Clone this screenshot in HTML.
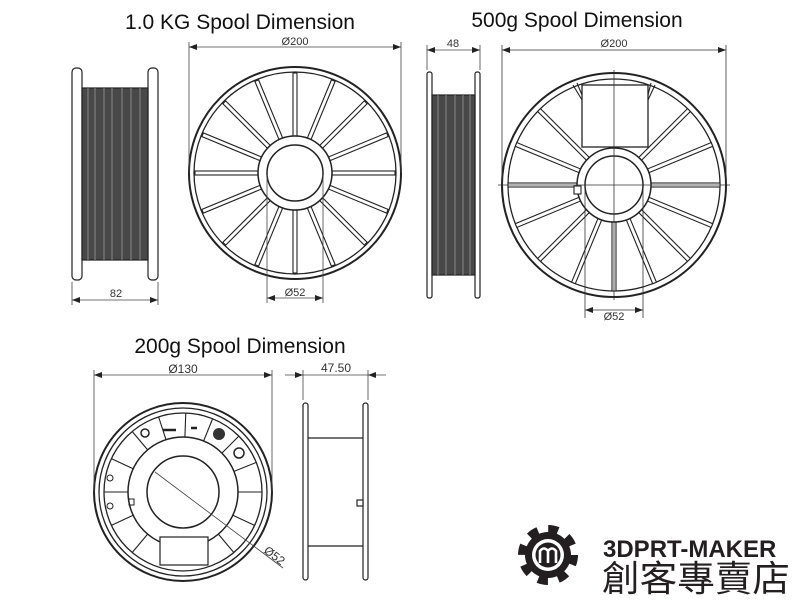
<!DOCTYPE html>
<html><head><meta charset="utf-8"><style>
html,body{margin:0;padding:0;background:#fff;}
svg{display:block}
text{font-family:"Liberation Sans","DejaVu Sans",sans-serif;}
</style></head><body>
<svg width="800" height="600" viewBox="0 0 800 600" xmlns="http://www.w3.org/2000/svg">
<defs>
<marker id="ar" markerWidth="8" markerHeight="6" refX="8" refY="3" orient="auto-start-reverse" markerUnits="userSpaceOnUse"><path d="M0,0 L8,3 L0,6 z" fill="#222"/></marker>
</defs>
<g font-family="Liberation Sans, DejaVu Sans, sans-serif">
<text x="240" y="29" font-size="21" text-anchor="middle" fill="#111">1.0 KG Spool Dimension</text>
<text x="577" y="27" font-size="21" text-anchor="middle" fill="#111">500g Spool Dimension</text>
<text x="240" y="353" font-size="21" text-anchor="middle" fill="#111">200g Spool Dimension</text>
</g>

<!-- 1kg side -->
<g stroke="#222" stroke-width="1.2">
<rect x="72" y="68" width="10" height="212" rx="4" fill="#fff"/>
<rect x="148" y="68" width="10" height="212" rx="4" fill="#fff"/>
<rect x="82" y="88" width="66" height="172" fill="#484848"/>
</g>
<g stroke="#888" stroke-width="1">
<line x1="88" y1="88" x2="88" y2="260"/><line x1="95" y1="88" x2="95" y2="260"/><line x1="104" y1="88" x2="104" y2="260"/><line x1="112" y1="88" x2="112" y2="260"/><line x1="122" y1="88" x2="122" y2="260"/><line x1="131" y1="88" x2="131" y2="260"/><line x1="140" y1="88" x2="140" y2="260"/>
</g>
<g stroke="#444" stroke-width="0.8" fill="none">
<line x1="72" y1="282" x2="72" y2="305"/><line x1="158" y1="282" x2="158" y2="305"/>
<line x1="72" y1="300" x2="158" y2="300" marker-start="url(#ar)" marker-end="url(#ar)"/>
</g>
<text x="116" y="297" font-size="11" text-anchor="middle" fill="#333">82</text>

<!-- 1kg front -->
<g stroke="#222" stroke-width="1.3" fill="none">
<circle cx="295" cy="173" r="106" stroke-width="2"/>
<circle cx="295" cy="173" r="101"/>
</g>
<g fill="#fff" stroke="#222" stroke-width="1.1">
<rect x="332" y="171" width="63" height="4" transform="rotate(0 295 173)"/>
<rect x="332" y="171" width="63" height="4" transform="rotate(22.5 295 173)"/>
<rect x="332" y="171" width="63" height="4" transform="rotate(45 295 173)"/>
<rect x="332" y="171" width="63" height="4" transform="rotate(67.5 295 173)"/>
<rect x="332" y="171" width="63" height="4" transform="rotate(90 295 173)"/>
<rect x="332" y="171" width="63" height="4" transform="rotate(112.5 295 173)"/>
<rect x="332" y="171" width="63" height="4" transform="rotate(135 295 173)"/>
<rect x="332" y="171" width="63" height="4" transform="rotate(157.5 295 173)"/>
<rect x="332" y="171" width="63" height="4" transform="rotate(180 295 173)"/>
<rect x="332" y="171" width="63" height="4" transform="rotate(202.5 295 173)"/>
<rect x="332" y="171" width="63" height="4" transform="rotate(225 295 173)"/>
<rect x="332" y="171" width="63" height="4" transform="rotate(247.5 295 173)"/>
<rect x="332" y="171" width="63" height="4" transform="rotate(270 295 173)"/>
<rect x="332" y="171" width="63" height="4" transform="rotate(292.5 295 173)"/>
<rect x="332" y="171" width="63" height="4" transform="rotate(315 295 173)"/>
<rect x="332" y="171" width="63" height="4" transform="rotate(337.5 295 173)"/>
<circle cx="295" cy="173" r="37" stroke-width="1.5"/>
<circle cx="295" cy="173" r="28" stroke-width="1.5"/>
</g>
<g stroke="#444" stroke-width="0.8" fill="none">
<line x1="189" y1="173" x2="189" y2="42"/><line x1="401" y1="173" x2="401" y2="42"/>
<line x1="189" y1="47" x2="401" y2="47" marker-start="url(#ar)" marker-end="url(#ar)"/>
<line x1="267" y1="175" x2="267" y2="303"/><line x1="323" y1="175" x2="323" y2="303"/>
<line x1="267" y1="298" x2="323" y2="298" marker-start="url(#ar)" marker-end="url(#ar)"/>
</g>
<text x="295" y="45" font-size="11" text-anchor="middle" fill="#333">Ø200</text>
<text x="295" y="296" font-size="11" text-anchor="middle" fill="#333">Ø52</text>

<!-- 500g side -->
<g stroke="#222" stroke-width="1.2">
<rect x="427" y="72" width="5" height="226" rx="2" fill="#fff"/>
<rect x="475" y="72" width="5" height="226" rx="2" fill="#fff"/>
<rect x="432" y="95" width="43" height="180" fill="#484848"/>
</g>
<g stroke="#888" stroke-width="1">
<line x1="438" y1="95" x2="438" y2="275"/><line x1="446" y1="95" x2="446" y2="275"/><line x1="455" y1="95" x2="455" y2="275"/><line x1="463" y1="95" x2="463" y2="275"/><line x1="470" y1="95" x2="470" y2="275"/>
</g>
<g stroke="#444" stroke-width="0.8" fill="none">
<line x1="427" y1="70" x2="427" y2="45"/><line x1="480" y1="70" x2="480" y2="45"/>
<line x1="427" y1="50" x2="480" y2="50" marker-start="url(#ar)" marker-end="url(#ar)"/>
</g>
<text x="453" y="47" font-size="11" text-anchor="middle" fill="#333">48</text>

<!-- 500g front -->
<g stroke="#222" stroke-width="1.3" fill="none">
<circle cx="614" cy="185" r="112" stroke-width="2"/>
<circle cx="614" cy="185" r="106"/>
</g>
<g fill="#fff" stroke="#222" stroke-width="1.1">
<rect x="651" y="183" width="69" height="4" transform="rotate(0 614 185)"/>
<rect x="651" y="183" width="69" height="4" transform="rotate(22.5 614 185)"/>
<rect x="651" y="183" width="69" height="4" transform="rotate(45 614 185)"/>
<rect x="651" y="183" width="69" height="4" transform="rotate(67.5 614 185)"/>
<rect x="651" y="183" width="69" height="4" transform="rotate(90 614 185)"/>
<rect x="651" y="183" width="69" height="4" transform="rotate(112.5 614 185)"/>
<rect x="651" y="183" width="69" height="4" transform="rotate(135 614 185)"/>
<rect x="651" y="183" width="69" height="4" transform="rotate(157.5 614 185)"/>
<rect x="651" y="183" width="69" height="4" transform="rotate(180 614 185)"/>
<rect x="651" y="183" width="69" height="4" transform="rotate(202.5 614 185)"/>
<rect x="651" y="183" width="69" height="4" transform="rotate(225 614 185)"/>
<rect x="651" y="183" width="69" height="4" transform="rotate(315 614 185)"/>
<rect x="651" y="183" width="69" height="4" transform="rotate(337.5 614 185)"/>
<rect x="582" y="85" width="66" height="62" stroke-width="1.3"/>
<circle cx="614" cy="185" r="37" stroke-width="1.5"/>
<circle cx="614" cy="185" r="29" stroke-width="1.5"/>
<rect x="574" y="186" width="7" height="8"/>
</g>
<g stroke="#222" stroke-width="1.1" fill="none">
<line x1="573" y1="85" x2="582" y2="100"/><line x1="577" y1="83" x2="582" y2="95"/>
<line x1="655" y1="85" x2="648" y2="100"/><line x1="651" y1="83" x2="648" y2="95"/>
</g>
<g stroke="#333" stroke-width="0.8" fill="none">
<line x1="614" y1="70" x2="614" y2="300"/><line x1="498" y1="185" x2="730" y2="185"/>
<line x1="502" y1="185" x2="502" y2="45"/><line x1="726" y1="185" x2="726" y2="45"/>
<line x1="502" y1="50" x2="726" y2="50" marker-start="url(#ar)" marker-end="url(#ar)"/>
<line x1="585" y1="187" x2="585" y2="318"/><line x1="643" y1="187" x2="643" y2="318"/>
<line x1="585" y1="310" x2="643" y2="310" marker-start="url(#ar)" marker-end="url(#ar)"/>
</g>
<text x="614" y="47" font-size="11" text-anchor="middle" fill="#333">Ø200</text>
<text x="614" y="320" font-size="11" text-anchor="middle" fill="#333">Ø52</text>

<!-- 200g front -->
<g stroke="#222" stroke-width="1.3" fill="none">
<circle cx="183" cy="492" r="89" stroke-width="2"/>
<circle cx="183" cy="492" r="84"/>
<circle cx="183" cy="492" r="79"/>
<circle cx="183" cy="492" r="55" stroke-width="1.5"/>
<circle cx="183" cy="492" r="36" stroke-width="1.5"/>
</g>
<g stroke="#222" stroke-width="1.1">
<line x1="238" y1="492" x2="262" y2="492" transform="rotate(0 183 492)"/>
<line x1="238" y1="492" x2="262" y2="492" transform="rotate(25 183 492)"/>
<line x1="238" y1="492" x2="262" y2="492" transform="rotate(50 183 492)"/>
<line x1="238" y1="492" x2="262" y2="492" transform="rotate(130 183 492)"/>
<line x1="238" y1="492" x2="262" y2="492" transform="rotate(155 183 492)"/>
<line x1="238" y1="492" x2="262" y2="492" transform="rotate(180 183 492)"/>
<line x1="238" y1="492" x2="262" y2="492" transform="rotate(205 183 492)"/>
<line x1="238" y1="492" x2="262" y2="492" transform="rotate(230 183 492)"/>
<line x1="238" y1="492" x2="262" y2="492" transform="rotate(252 183 492)"/>
<line x1="238" y1="492" x2="262" y2="492" transform="rotate(272 183 492)"/>
<line x1="238" y1="492" x2="262" y2="492" transform="rotate(292 183 492)"/>
<line x1="238" y1="492" x2="262" y2="492" transform="rotate(315 183 492)"/>
<line x1="238" y1="492" x2="262" y2="492" transform="rotate(338 183 492)"/>
</g>
<rect x="160" y="537" width="48" height="28" fill="#fff" stroke="#222" stroke-width="1.2"/>
<line x1="163" y1="430" x2="176" y2="430" stroke="#222" stroke-width="2.5"/>
<line x1="191" y1="428" x2="197" y2="428" stroke="#222" stroke-width="2.5"/>
<circle cx="145" cy="433" r="4" fill="none" stroke="#222" stroke-width="1.5"/>
<circle cx="219" cy="434" r="6" fill="#333"/>
<circle cx="239" cy="453" r="5" fill="none" stroke="#222" stroke-width="1.5"/>
<circle cx="110" cy="478" r="3" fill="none" stroke="#222"/>
<circle cx="110" cy="506" r="3" fill="none" stroke="#222"/>
<rect x="129" y="499" width="5" height="6" fill="none" stroke="#222"/>
<g stroke="#444" stroke-width="0.8" fill="none">
<line x1="94" y1="492" x2="94" y2="370"/><line x1="272" y1="492" x2="272" y2="370"/>
<line x1="94" y1="375" x2="272" y2="375" marker-start="url(#ar)" marker-end="url(#ar)"/>
<line x1="155" y1="472" x2="283" y2="568"/>
</g>
<text x="0" y="0" font-size="12" fill="#333" transform="translate(263,552) rotate(37)">Ø52</text>
<text x="183" y="373" font-size="12" text-anchor="middle" fill="#333">Ø130</text>

<!-- 200g side -->
<g stroke="#222" stroke-width="1.2" fill="#fff">
<rect x="303" y="403" width="5" height="177" rx="2.5"/>
<rect x="363" y="403" width="5" height="177" rx="2.5"/>
<line x1="308" y1="438" x2="363" y2="438"/>
<line x1="308" y1="546" x2="363" y2="546"/>
<rect x="357" y="500" width="6" height="6"/>
</g>
<g stroke="#444" stroke-width="0.8" fill="none">
<line x1="303" y1="400" x2="303" y2="370"/><line x1="368" y1="400" x2="368" y2="370"/>
<line x1="285" y1="375" x2="303" y2="375" marker-end="url(#ar)"/>
<line x1="386" y1="375" x2="368" y2="375" marker-end="url(#ar)"/>
<line x1="303" y1="375" x2="368" y2="375"/>
</g>
<text x="336" y="372" font-size="12" text-anchor="middle" fill="#333">47.50</text>

<!-- logo -->
<g>
<circle cx="548" cy="555" r="23" fill="#231f20"/>
<circle cx="548" cy="555" r="26" fill="none" stroke="#231f20" stroke-width="8" stroke-dasharray="10 10.42"/>
<circle cx="548" cy="555" r="16" fill="#fff"/>
<circle cx="548" cy="555" r="12.5" fill="#231f20"/>
<path d="M540,563 V551 Q544,546 548,551 V563 M548,551 Q552,546 556,551 V563" fill="none" stroke="#fff" stroke-width="2.6"/>
</g>
<text x="603" y="557" font-size="24" font-weight="bold" fill="#231f20" font-family="Liberation Sans, sans-serif">3DPRT-MAKER</text>
<text x="602" y="591" font-size="36" fill="#231f20" font-family="Liberation Sans, Noto Sans CJK TC, sans-serif" textLength="188" lengthAdjust="spacingAndGlyphs">創客專賣店</text>
</svg>
</body></html>
